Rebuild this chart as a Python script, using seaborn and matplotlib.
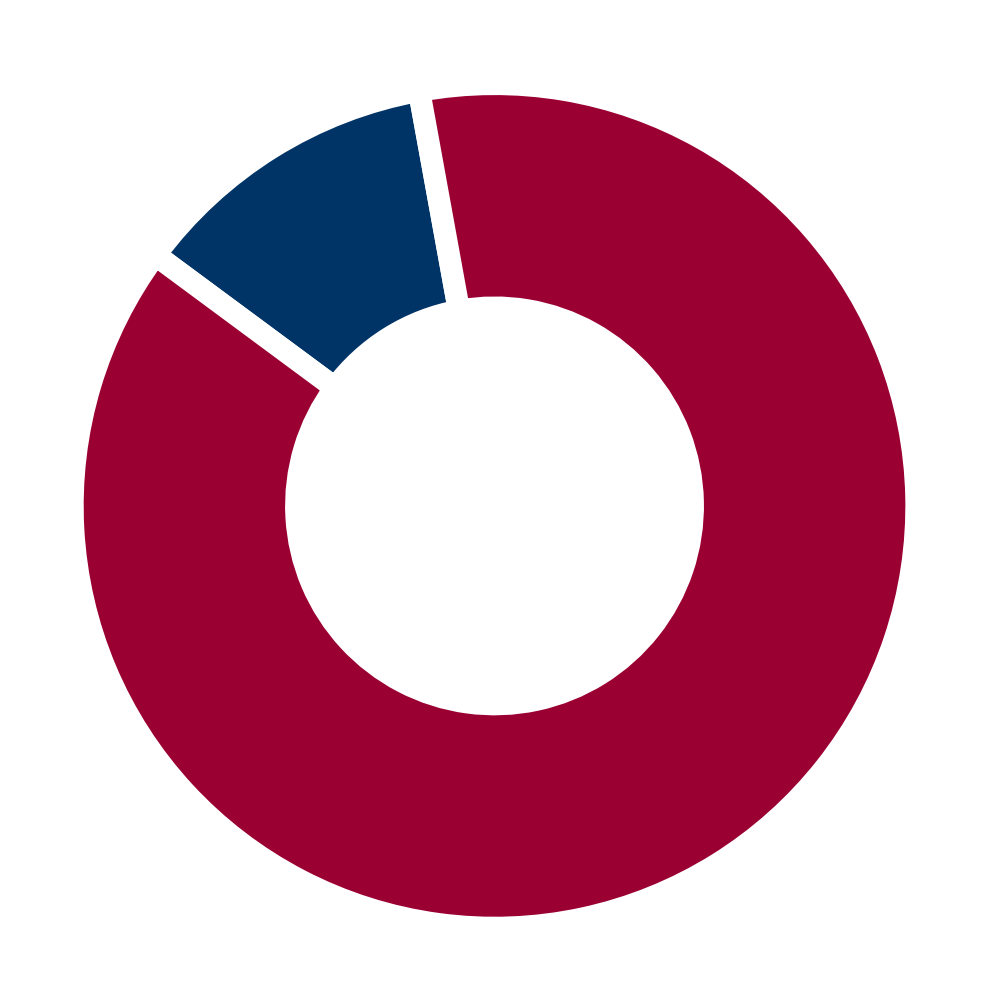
import numpy as np
import pandas as pd
import matplotlib.pyplot as plt
import seaborn as sns

sns.set_theme(style="white")

# two-part share, navy piece first (counter-clockwise from the top gap)
labels = ['Minority', 'Majority']
shares = [12, 88]
colors = sns.color_palette(['#013466', '#9b0033'])

fig = plt.figure(figsize=(10, 10), dpi=100)
ax = fig.add_axes([0, 0, 1, 1])

ax.pie(shares, colors=colors, startangle=100.3, counterclock=True,
       radius=1.0,
       wedgeprops=dict(width=0.53, edgecolor='white', linewidth=16))

ax.set_xlim(-1.172, 1.198)
ax.set_ylim(-1.171, 1.199)
ax.set_aspect('equal')
ax.axis('off')

plt.savefig('out.png', dpi=100, facecolor='white')
